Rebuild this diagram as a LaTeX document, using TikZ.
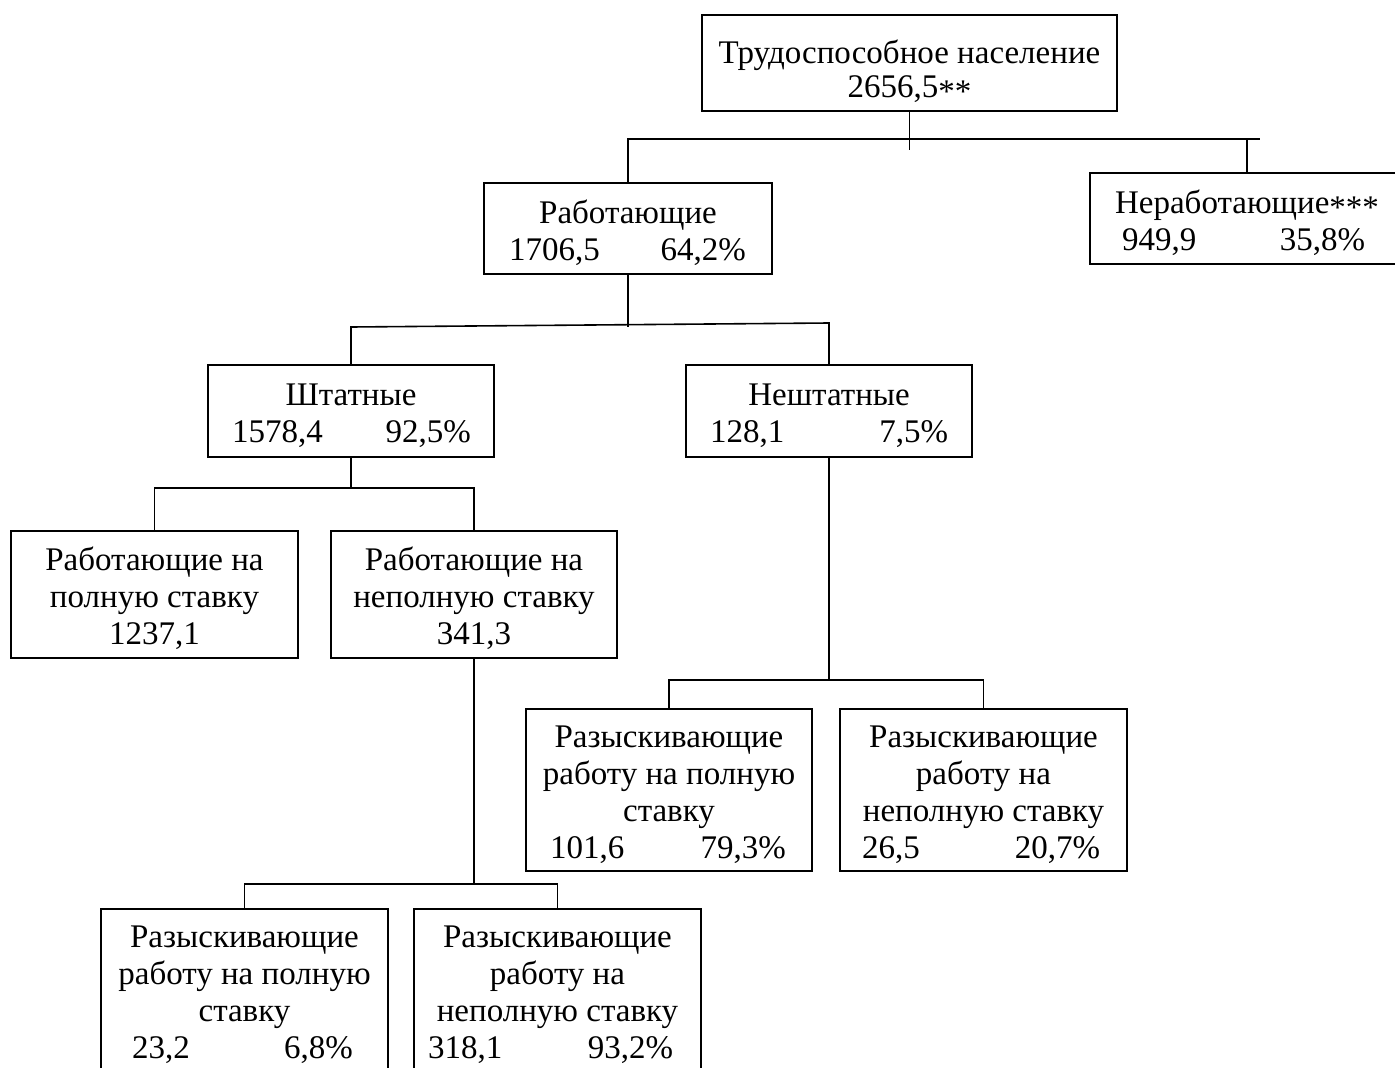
\documentclass[tikz,border=0pt]{standalone}
\usepackage{fontspec}
\setmainfont{Liberation Serif}
\newcommand{\numrow}[4]{\noindent\hbox to \linewidth{\hspace*{#1pt}#2\hfill #3\hspace*{#4pt}}}
\newcommand{\stars}[1]{\raisebox{-5pt}{#1}}
\begin{document}
\begin{tikzpicture}[x=1pt,y=-1pt,
  bx/.style={draw, line width=1.6pt, rectangle, inner sep=0pt, align=flush center,
    text width=#1, minimum width=#1,
    font=\fontsize{33}{37}\selectfont,
    execute at begin node={\rule{0pt}{32pt}},
    execute at end node={\rule[-5pt]{0pt}{5pt}}},
  conn/.style={line width=1.6pt}]
\useasboundingbox (0,0) rectangle (1395,1068);
\clip (0,0) rectangle (1395,1068);

\node[bx=415pt, minimum height=96pt, font=\fontsize{33}{34}\selectfont,
      execute at begin node={\rule{0pt}{40pt}}] (top) at (909.5,63)
  {Трудоспособное население\\2656,5\stars{**}};

\node[bx=288pt, minimum height=91pt] (rab) at (628,228.5)
  {Работающие\\\numrow{25}{1706,5}{64,2\%}{26}};

\node[bx=314pt, minimum height=91pt] (nerab) at (1247,218.5)
  {Неработающие\stars{***}\\\numrow{32}{949,9}{35,8\%}{39}};

\node[bx=286pt, minimum height=92pt] (sht) at (351,411)
  {Штатные\\\numrow{24}{1578,4}{92,5\%}{23}};

\node[bx=286pt, minimum height=92pt] (nesht) at (829,411)
  {Нештатные\\\numrow{24}{128,1}{7,5\%}{24}};

\node[bx=287pt, minimum height=127pt] (rpoln) at (154.5,594.5)
  {Работающие на\\полную ставку\\1237,1};

\node[bx=286pt, minimum height=127pt] (rnepoln) at (474,594.5)
  {Работающие на\\неполную ставку\\341,3};

\node[bx=286pt, minimum height=162pt] (rz1) at (669,790)
  {Разыскивающие\\работу на полную\\ставку\\\numrow{24}{101,6}{79,3\%}{26}};

\node[bx=287pt, minimum height=162pt] (rz2) at (983.5,790)
  {Разыскивающие\\работу на\\неполную ставку\\\numrow{22}{26,5}{20,7\%}{27}};

\node[bx=287pt, minimum height=162pt] (rz3) at (244.5,990)
  {Разыскивающие\\работу на полную\\ставку\\\numrow{31}{23,2}{6,8\%}{35}};

\node[bx=287pt, minimum height=162pt] (rz4) at (557.5,990)
  {Разыскивающие\\работу на\\неполную ставку\\\numrow{14}{318,1}{93,2\%}{28}};

% level 1
\coordinate (h1end) at (1260,139);
\draw[conn] (top.south) -- ++(0,38);
\draw[conn] (rab.north) -- (rab.north |- h1end) -- (h1end);
\draw[conn] (nerab.north) -- (nerab.north |- h1end);

% level 2
\coordinate (h2l) at (351,327);
\coordinate (h2r) at (829,323);
\draw[conn] (rab.south) -- ++(0,52);
\draw[conn] (sht.north) -- (h2l) -- (h2r) -- (nesht.north);

% level 3
\coordinate (h3) at (0,488);
\draw[conn] (sht.south) -- (sht.south |- h3);
\draw[conn] (rpoln.north) -- (rpoln.north |- h3) -- (rnepoln.north |- h3) -- (rnepoln.north);

% level 4
\coordinate (h4) at (0,680);
\draw[conn] (nesht.south) -- (nesht.south |- h4);
\draw[conn] (rz1.north) -- (rz1.north |- h4) -- (rz2.north |- h4) -- (rz2.north);

% level 5
\coordinate (h5) at (0,884);
\draw[conn] (rnepoln.south) -- (rnepoln.south |- h5);
\draw[conn] (rz3.north) -- (rz3.north |- h5) -- (rz4.north |- h5) -- (rz4.north);
\end{tikzpicture}
\end{document}
